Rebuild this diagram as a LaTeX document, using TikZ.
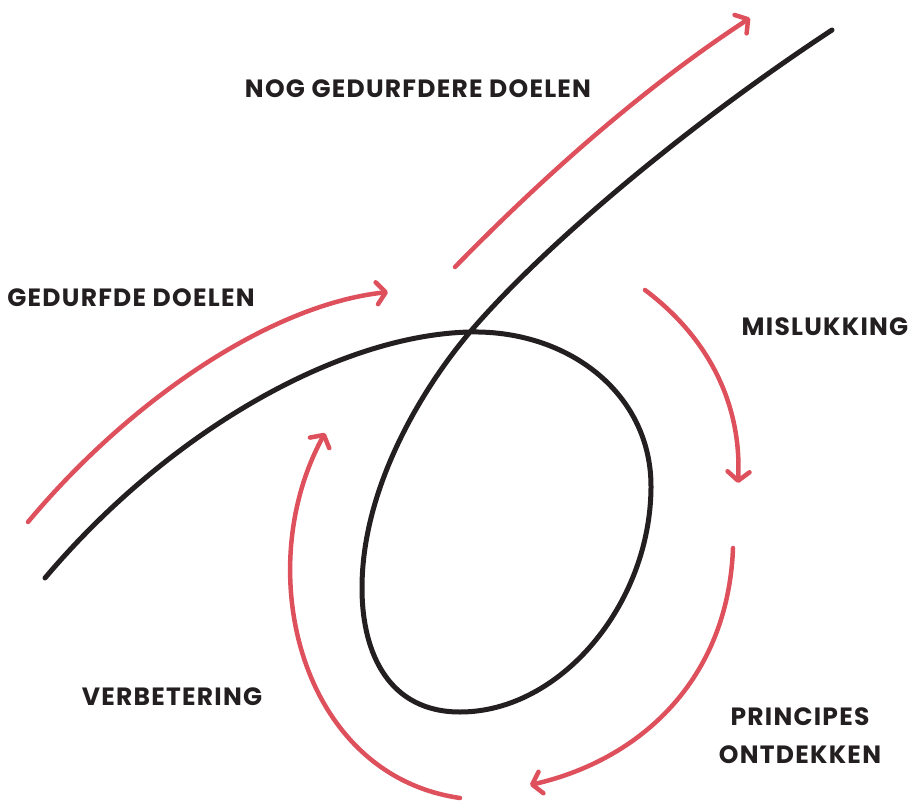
\documentclass[tikz,border=0pt]{standalone}
\usepackage{fontspec}
\setmainfont{Poppins}[LetterSpace=5]
\usetikzlibrary{arrows.meta}
\definecolor{loopred}{RGB}{221,80,92}
\definecolor{loopblack}{RGB}{35,31,32}

\begin{document}
\begin{tikzpicture}[x=1pt,y=-1pt,
 curve/.style={loopblack,line width=5pt,line cap=round},
 flow/.style={loopred,line width=4.5pt,line cap=round,-{Straight Barb[length=9pt,width=22pt,round]}},
 lbl/.style={font=\fontsize{25}{38}\selectfont\bfseries,text=loopblack,align=center}]
\useasboundingbox (0,0) rectangle (908,803);
% the loop
\coordinate (cross) at (470,332);
\draw[curve] (45,578) .. controls (170,430) and (340,335) .. (cross)
 .. controls (570,330) and (652,395) .. (651,488)
 .. controls (650,605) and (560,712) .. (460,712)
 .. controls (390,712) and (362,655) .. (362,588)
 .. controls (362,485) and (425,385) .. (cross)
 .. controls (540,250) and (680,130) .. (832,30);
% arrows
\draw[flow] (28,522) .. controls (130,400) and (270,305) .. (388,292);
\draw[flow] (455,267) .. controls (540,180) and (640,90) .. (750,18);
\draw[flow] (645,290) .. controls (705,335) and (742,400) .. (738,483);
\draw[flow] (733,548) .. controls (728,680) and (640,760) .. (530,785);
\draw[flow] (460,798) .. controls (300,775) and (250,570) .. (325,433);
% labels
\node[lbl] (nog) at (418,89) {NOG GEDURFDERE DOELEN};
\node[lbl] (gedurfd) at (131,298) {GEDURFDE DOELEN};
\node[lbl] (mislukking) at (825,327) {MISLUKKING};
\node[lbl] (verbetering) at (172,697) {VERBETERING};
\node[lbl] (principes) at (800,736) {PRINCIPES\\ONTDEKKEN};
\end{tikzpicture}
\end{document}
